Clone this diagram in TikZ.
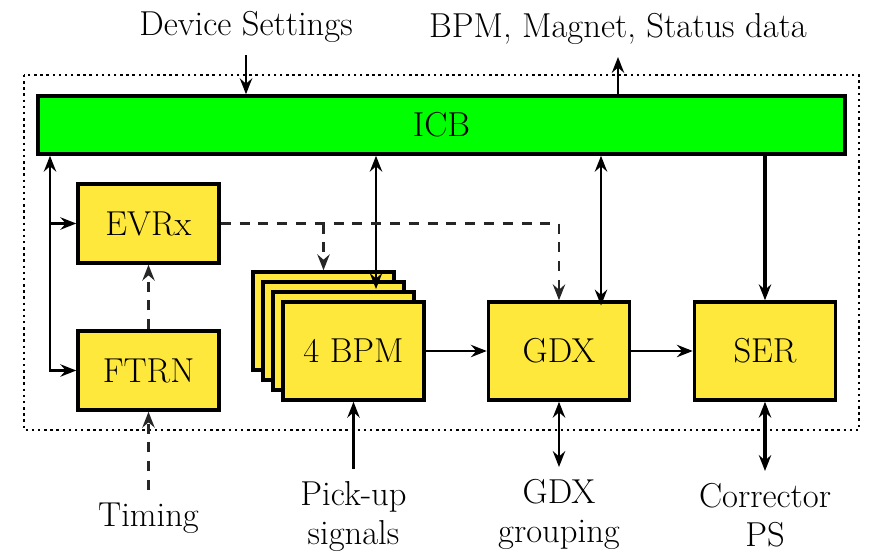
\documentclass[tikz,border=0pt]{standalone}
\usetikzlibrary{arrows.meta}
\definecolor{boxyellow}{RGB}{255,232,60}
\definecolor{icbgreen}{RGB}{0,255,0}
\tikzset{
	>={Stealth[length=9pt,width=7pt,inset=3pt]},
	blk/.style={draw=black,line width=2pt,fill=boxyellow,minimum width=2.82cm,minimum height=1.96cm,inner sep=0pt},
	bus/.style={draw=black,line width=2pt,fill=icbgreen,minimum width=16.14cm,minimum height=1.16cm,inner sep=0pt},
	lbl/.style={inner sep=7pt,align=center},
	conn/.style={line width=1.5pt},
	dsh/.style={line width=1.6pt,black!85,dash pattern=on 5.7pt off 5pt},
	frame/.style={line width=1.4pt,dash pattern=on 1.4pt off 2.1pt}
}

\begin{document}
\begin{tikzpicture}[x=0.02cm,y=-0.02cm,font=\fontsize{19.7}{22}\selectfont]
	\useasboundingbox (0,0) rectangle (874,555);
	\draw[frame] (24,75) rectangle (859,430);

	\node[bus] (ICB) at (441.5,125) {ICB};
	\node[blk,minimum height=1.58cm] (EVRx) at (148.5,223.5) {EVRx};
	\node[blk,minimum height=1.58cm] (FTRN) at (148.5,370.5) {FTRN};
	\node[blk] (bpm1) at (323.5,321) {};
	\node[blk] (bpm2) at (333.5,331) {};
	\node[blk] (bpm3) at (343.5,341) {};
	\node[blk] (BPM) at (353.5,351) {4 BPM};
	\node[blk] (GDX) at (559,351) {GDX};
	\node[blk] (SER) at (765,351) {SER};

	\node[lbl,anchor=south] (devset) at (246,55) {Device Settings};
	\node[lbl,anchor=south] (bpmdata) at (618,57) {BPM, Magnet, Status data};
	\node[lbl,anchor=north] (timing) at (148.5,490) {Timing};
	\node[lbl,anchor=north] (pickup) at (353.5,469) {Pick-up\\signals};
	\node[lbl,anchor=north] (grouping) at (559,467) {GDX\\grouping};
	\node[lbl,anchor=north] (corrector) at (765,471) {Corrector\\PS};

	\coordinate (busx) at (50,0);
	\coordinate (bpmx) at (376,0);
	\coordinate (gdxx) at (601,0);

	\draw[conn,->] (devset.south) -- (ICB.north -| devset.south);
	\draw[conn,->] (ICB.north -| bpmdata.south) -- (bpmdata.south);
	\draw[conn,<->] (FTRN.west) -| (ICB.south -| busx);
	\draw[conn,->] (EVRx.west -| busx) -- (EVRx.west);
	\draw[conn,<->] (ICB.south -| bpmx) -- ([yshift=-5pt]bpm2.north -| bpmx);
	\draw[conn,<->] (ICB.south -| gdxx) -- ([yshift=-3pt]GDX.north -| gdxx);
	\draw[conn,->,line width=1.8pt] (ICB.south -| SER.north) -- (SER.north);

	\draw[dsh,->] (EVRx.east) -| (GDX.north);
	\draw[dsh,->] (bpm1.north |- EVRx.east) -- (bpm1.north);
	\draw[dsh,->] (FTRN.north) -- (EVRx.south);
	\draw[dsh,->] (timing.north) -- (FTRN.south);

	\draw[conn,->] (pickup.north) -- (BPM.south);
	\draw[conn,->] (BPM.east) -- (GDX.west);
	\draw[conn,->] (GDX.east) -- (SER.west);
	\draw[conn,<->] (GDX.south) -- (grouping.north);
	\draw[conn,<->,line width=2pt] (SER.south) -- (corrector.north);
\end{tikzpicture}
\end{document}
